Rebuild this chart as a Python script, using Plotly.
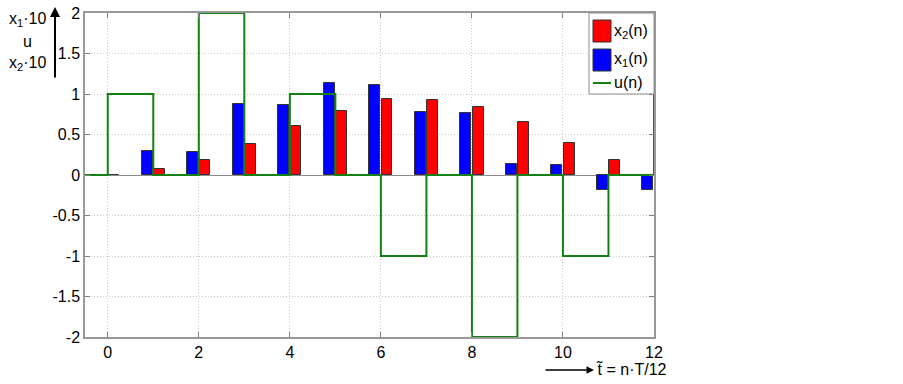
import plotly.graph_objects as go

# ---- data ----
n = list(range(0, 13))
x1 = [0, 0.30, 0.29, 0.88, 0.86, 1.14, 1.11, 0.78, 0.76, 0.13, 0.12, -0.185, -0.185]
x2 = [0, 0.08, 0.18, 0.38, 0.60, 0.79, 0.94, 0.93, 0.84, 0.65, 0.40, 0.19, 0]
u_n = list(range(-1, 13))
u = [0, 1, 0, 2, 0, 1, 0, -1, 0, -2, 0, -1, 0, 1]
xticks = [0, 2, 4, 6, 8, 10, 12]
yticks = [-2, -1.5, -1, -0.5, 0, 0.5, 1, 1.5, 2]
ytick_text = ["-2", "-1.5", "-1", "-0.5", "0", "0.5", "1", "1.5", "2"]

W, H = 903, 384
L, R, T, B = 85, 654, 13, 337
FONT = "Liberation Sans, Arial, sans-serif"


def px(x):
    return (x - L) / (R - L)


def py(y):
    return (B - y) / (B - T)


fig = go.Figure()
fig.add_trace(go.Bar(x=n, y=x1, width=0.24, offset=-0.255, marker_color="#0000ff",
                     marker_line=dict(color="#333333", width=1), showlegend=False))
fig.add_trace(go.Bar(x=n, y=x2, width=0.24, offset=0.015, marker_color="#ff0000",
                     marker_line=dict(color="#333333", width=1), showlegend=False))
fig.add_trace(go.Scatter(x=u_n, y=u, mode="lines", line_shape="hv",
                         line=dict(color="#138013", width=2), showlegend=False))

axis_common = dict(showline=True, linecolor="#999999", linewidth=1.5, mirror="ticks",
                   ticks="inside", ticklen=5, tickcolor="#808080", automargin=False,
                   showgrid=True, gridcolor="#c8c8c8", griddash="1px,2px", gridwidth=1,
                   tickfont=dict(family=FONT, size=16, color="#000"))
fig.update_xaxes(range=[-0.5, 12], tickvals=xticks, ticktext=[str(t) for t in xticks],
                 zeroline=False, **axis_common)
fig.update_yaxes(range=[-2, 2], tickvals=yticks, ticktext=ytick_text,
                 zeroline=True, zerolinecolor="#8c8c8c", zerolinewidth=1, **axis_common)

shapes = []
annotations = []
# legend box
shapes.append(dict(type="rect", xref="paper", yref="paper", x0=px(589), x1=px(654),
                   y0=py(94), y1=py(13), line=dict(color="#8c8c8c", width=1),
                   fillcolor="white", layer="above"))
shapes.append(dict(type="rect", xref="paper", yref="paper", x0=px(593), x1=px(611),
                   y0=py(42), y1=py(20), line=dict(color="#333", width=1),
                   fillcolor="#ff0000", layer="above"))
shapes.append(dict(type="rect", xref="paper", yref="paper", x0=px(593), x1=px(611),
                   y0=py(71), y1=py(49), line=dict(color="#333", width=1),
                   fillcolor="#0000ff", layer="above"))
shapes.append(dict(type="line", xref="paper", yref="paper", x0=px(593), x1=px(611),
                   y0=py(83), y1=py(83), line=dict(color="#138013", width=2), layer="above"))
for label, yy in [("x<sub>2</sub>(n)", 31), ("x<sub>1</sub>(n)", 60), ("u(n)", 83)]:
    annotations.append(dict(text=label, xref="paper", yref="paper", x=px(612), y=py(yy),
                            xanchor="left", yanchor="middle", showarrow=False,
                            font=dict(family=FONT, size=16, color="#000")))

# y label
for label, xx, yy in [("x<sub>1</sub>·10", 27, 20), ("u", 27, 42), ("x<sub>2</sub>·10", 27, 63)]:
    annotations.append(dict(text=label, xref="paper", yref="paper", x=px(xx), y=py(yy),
                            xanchor="center", yanchor="middle", showarrow=False,
                            font=dict(family=FONT, size=16, color="#000")))
annotations.append(dict(text="", xref="paper", yref="paper", x=px(55), y=py(7),
                        ax=0, ay=72, showarrow=True, arrowhead=2, arrowsize=1,
                        arrowwidth=2, arrowcolor="#000"))
# x label
annotations.append(dict(text="", xref="paper", yref="paper", x=px(594), y=py(370),
                        ax=-50, ay=0, showarrow=True, arrowhead=2, arrowsize=1,
                        arrowwidth=1.5, arrowcolor="#000"))
annotations.append(dict(text="t\u0303 = n·T/12", xref="paper", yref="paper", x=px(594),
                        y=py(369), xanchor="left", yanchor="middle", showarrow=False,
                        font=dict(family=FONT, size=16, color="#000")))

fig.update_layout(width=W, height=H, margin=dict(l=L, r=W - R, t=T, b=H - B, pad=0),
                  plot_bgcolor="white", paper_bgcolor="white", bargap=0,
                  shapes=shapes, annotations=annotations,
                  font=dict(family=FONT, size=16, color="#000"))

fig.write_html("out.html", config={"displayModeBar": False},
               post_script="document.body.style.margin='0';document.body.style.overflow='hidden';")
